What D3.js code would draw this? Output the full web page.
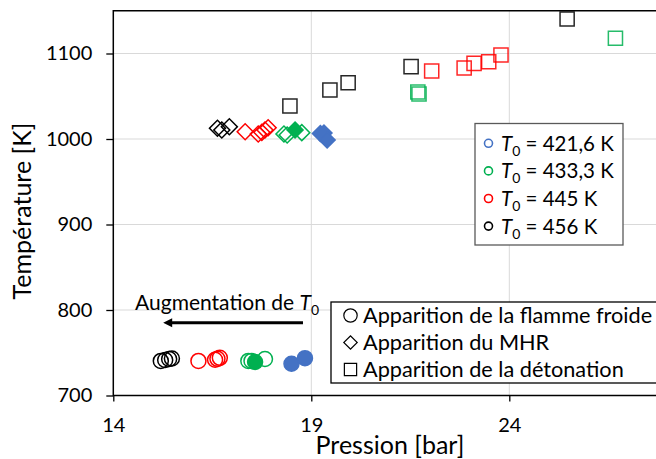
<!DOCTYPE html>
<html><head><meta charset="utf-8">
<script src="https://cdn.jsdelivr.net/npm/d3@7"></script>
<style>
body{margin:0;background:#fff}
svg{display:block}
text{font-family:Lato,"Open Sans",sans-serif;fill:#000}
</style>
</head><body><svg id="c" width="656" height="459"></svg>
<script>
// ---------- data ----------
const seriesLabels = ["421,6 K", "433,3 K", "445 K", "456 K"];
const xTicks = [14, 19, 24];
const yTicks = [700, 800, 900, 1000, 1100];
const typeLabels = ["Apparition de la flamme froide", "Apparition du MHR", "Apparition de la détonation"];
const xTitle = "Pression [bar]";
const yTitle = "Température [K]";
const annotation = "Augmentation de ";

// rows: [series index, pression (bar), température (K), filled]
const flammeFroide = [
  [3, 15.20, 740.4, 0], [3, 15.31, 741.5, 0], [3, 15.41, 742.7, 0], [3, 15.48, 743.3, 0],
  [2, 16.15, 740.4, 0], [2, 16.57, 741.8, 0], [2, 16.63, 742.9, 0], [2, 16.69, 744.1, 0],
  [1, 17.41, 740.4, 0], [1, 17.49, 740.4, 0], [1, 17.83, 742.7, 0], [1, 17.58, 739.2, 1],
  [0, 18.50, 737.1, 1], [0, 18.84, 743.7, 1]
];
const mhr = [
  [3, 16.63, 1012.5, 0], [3, 16.74, 1010.5, 0], [3, 16.93, 1014.4, 0],
  [2, 17.33, 1008.5, 0], [2, 17.66, 1005.8, 0], [2, 17.75, 1007.8, 0], [2, 17.83, 1010.5, 0], [2, 17.91, 1013.2, 0],
  [1, 18.31, 1005.8, 0], [1, 18.39, 1004.7, 0], [1, 18.76, 1007.4, 0], [1, 18.59, 1010.5, 1],
  [0, 19.23, 1006.4, 1], [0, 19.32, 1007.0, 1], [0, 19.40, 998.8, 1]
];
const detonation = [
  [3, 18.46, 1038.6, 0], [3, 19.47, 1057.3, 0], [3, 19.93, 1065.8, 0], [3, 21.52, 1084.6, 0], [3, 25.46, 1140.4, 0],
  [2, 22.04, 1079.5, 0], [2, 22.86, 1083.0, 0], [2, 23.11, 1088.5, 0], [2, 23.48, 1090.4, 0], [2, 23.79, 1098.2, 0],
  [1, 21.69, 1055.0, 0], [1, 21.72, 1052.6, 0], [1, 26.68, 1117.8, 0]
];

// ---------- styles ----------
const seriesColors = ["#4472C4", "#00B050", "#FF0000", "#000000"];

const svg = d3.select("#c");
const x = d3.scaleLinear().domain([14, 28]).range([113.3, 667.7]);
const y = d3.scaleLinear().domain([700, 1150]).range([395.5, 10.75]);

// gridlines
svg.append("g").selectAll("line").data(yTicks.filter(t => t > 700)).join("line")
  .attr("x1", x(14)).attr("x2", x(28)).attr("y1", d => y(d)).attr("y2", d => y(d))
  .attr("stroke", "#d9d9d9").attr("stroke-width", 1);
svg.append("g").selectAll("line").data(xTicks.filter(t => t > 14)).join("line")
  .attr("y1", y(700)).attr("y2", y(1150)).attr("x1", d => x(d)).attr("x2", d => x(d))
  .attr("stroke", "#d9d9d9").attr("stroke-width", 1);

// plot border
svg.append("rect").attr("x", x(14)).attr("y", y(1150))
  .attr("width", x(28) - x(14)).attr("height", y(700) - y(1150))
  .attr("fill", "none").attr("stroke", "#000").attr("stroke-width", 1.5);

// axes
const ax = svg.append("g").attr("transform", `translate(0,${y(700)})`)
  .call(d3.axisBottom(x).tickValues(xTicks).tickSize(6).tickPadding(16).tickFormat(d3.format("d")));
const ay = svg.append("g").attr("transform", `translate(${x(14)},0)`)
  .call(d3.axisLeft(y).tickValues(yTicks).tickSize(7).tickPadding(14).tickFormat(d3.format("d")));
[ax, ay].forEach(g => {
  g.select(".domain").remove();
  g.selectAll(".tick line").attr("stroke", "#000").attr("stroke-width", 1.3);
  g.selectAll(".tick text").attr("font-family", "Lato").attr("font-size", 20).attr("fill", "#000");
});

// axis titles
svg.append("text").attr("x", 390).attr("y", 454).attr("text-anchor", "middle")
  .attr("font-size", 25).text(xTitle);
svg.append("text").attr("transform", `translate(31,211) rotate(-90)`).attr("text-anchor", "middle")
  .attr("font-size", 25).text(yTitle);

// markers
const sw = 1.5;
function styleMark(sel) {
  sel.attr("fill", d => d[3] ? seriesColors[d[0]] : "none")
     .attr("stroke", d => seriesColors[d[0]])
     .attr("stroke-width", sw);
}
const order = (a, b) => (b[0] - a[0]) || (a[3] - b[3]);
const marks = svg.append("g");
marks.append("g").selectAll("circle").data(flammeFroide.slice().sort(order)).join("circle")
  .attr("cx", d => x(d[1])).attr("cy", d => y(d[2])).attr("r", 7.5).call(styleMark);
const diamond = d3.symbol(d3.symbolSquare, 128)();
marks.append("g").selectAll("path").data(mhr.slice().sort(order)).join("path")
  .attr("d", diamond)
  .attr("transform", d => `translate(${x(d[1])},${y(d[2])}) rotate(45)`).call(styleMark);
const square = d3.symbol(d3.symbolSquare, 200)();
marks.append("g").selectAll("path").data(detonation.slice().sort(order)).join("path")
  .attr("d", square)
  .attr("transform", d => `translate(${x(d[1])},${y(d[2])})`).call(styleMark)
  .attr("stroke-opacity", 0.85);

// annotation
const ann = svg.append("text").attr("x", x(14.55)).attr("y", y(800)).attr("font-size", 21);
ann.append("tspan").text(annotation);
ann.append("tspan").attr("font-style", "italic").text("T");
ann.append("tspan").attr("dy", 5).attr("font-size", 14).text("0");
const ay0 = y(785);
svg.append("line").attr("x1", x(18.79)).attr("x2", x(15.45)).attr("y1", ay0).attr("y2", ay0)
  .attr("stroke", "#000").attr("stroke-width", 3);
svg.append("path")
  .attr("d", `M${x(15.26)},${ay0} L${x(15.26) + 9},${ay0 - 4.5} L${x(15.26) + 9},${ay0 + 4.5} Z`)
  .attr("fill", "#000");

// legend 1 (series)
const l1 = svg.append("g");
l1.append("rect").attr("x", 475).attr("y", 123.5).attr("width", 148).attr("height", 121.5)
  .attr("fill", "#fff").attr("stroke", "#595959").attr("stroke-width", 1.3);
const l1rows = l1.selectAll("g").data(seriesLabels).join("g")
  .attr("transform", (d, i) => `translate(0,${143.3 + i * 27.6})`);
l1rows.append("circle").attr("cx", 488.5).attr("cy", 0).attr("r", 4)
  .attr("fill", "none").attr("stroke", (d, i) => seriesColors[i]).attr("stroke-width", 1.6);
const l1t = l1rows.append("text").attr("x", 501).attr("y", 7.5).attr("font-size", 20.5);
l1t.append("tspan").attr("font-style", "italic").text("T");
l1t.append("tspan").attr("dy", 5).attr("font-size", 14).text("0");
l1t.append("tspan").attr("dy", -5).text(d => " = " + d);

// legend 2 (types)
const l2 = svg.append("g");
l2.append("rect").attr("x", 331).attr("y", 302).attr("width", 400).attr("height", 81)
  .attr("fill", "#fff").attr("stroke", "#000").attr("stroke-width", 1.3);
const l2rows = l2.selectAll("g").data(typeLabels).join("g")
  .attr("transform", (d, i) => `translate(0,${315.5 + i * 27})`);
const symTypes = [d3.symbolCircle, d3.symbolSquare, d3.symbolSquare];
const symSizes = [140, 90, 150];
l2rows.append("path")
  .attr("d", (d, i) => d3.symbol(symTypes[i], symSizes[i])())
  .attr("transform", (d, i) => `translate(350.5,0) rotate(${i === 1 ? 45 : 0})`)
  .attr("fill", "none").attr("stroke", "#000").attr("stroke-width", 1.2);
l2rows.append("text").attr("x", 363).attr("y", 7.5).attr("font-size", 21.7).text(d => d);
</script>
</body></html>
